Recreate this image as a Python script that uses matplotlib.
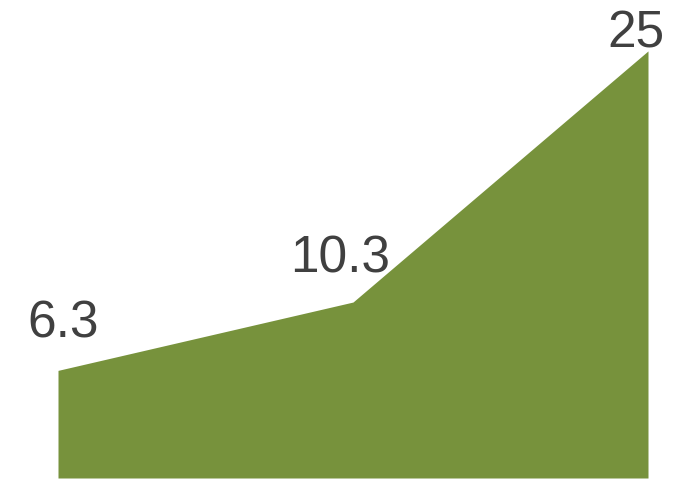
import matplotlib
matplotlib.use("Agg")
import matplotlib.pyplot as plt

plt.rcParams['font.family'] = ['Liberation Sans', 'DejaVu Sans']

categories = [0, 1, 2]
values = [6.3, 10.3, 25]
labels = ["6.3", "10.3", "25"]

fig = plt.figure(figsize=(7, 4.81), dpi=100)
ax = fig.add_axes([58 / 700, 2 / 481, 590 / 700, 479 / 481])
ax.fill_between(categories, values, 0, color="#77923C", linewidth=0)
ax.set_xlim(0, 2)
ax.set_ylim(0, 28.04)
ax.axis("off")

# label offsets in pixels from each point
offsets = [(5, 34), (-13, 31), (-12, 4)]
for x, y, t, off in zip(categories, values, labels, offsets):
    ax.annotate(t, (x, y), xytext=off, textcoords="offset pixels",
                ha="center", va="baseline", fontsize=37, color="#404040",
                annotation_clip=False)

fig.savefig("out.png", dpi=100)
